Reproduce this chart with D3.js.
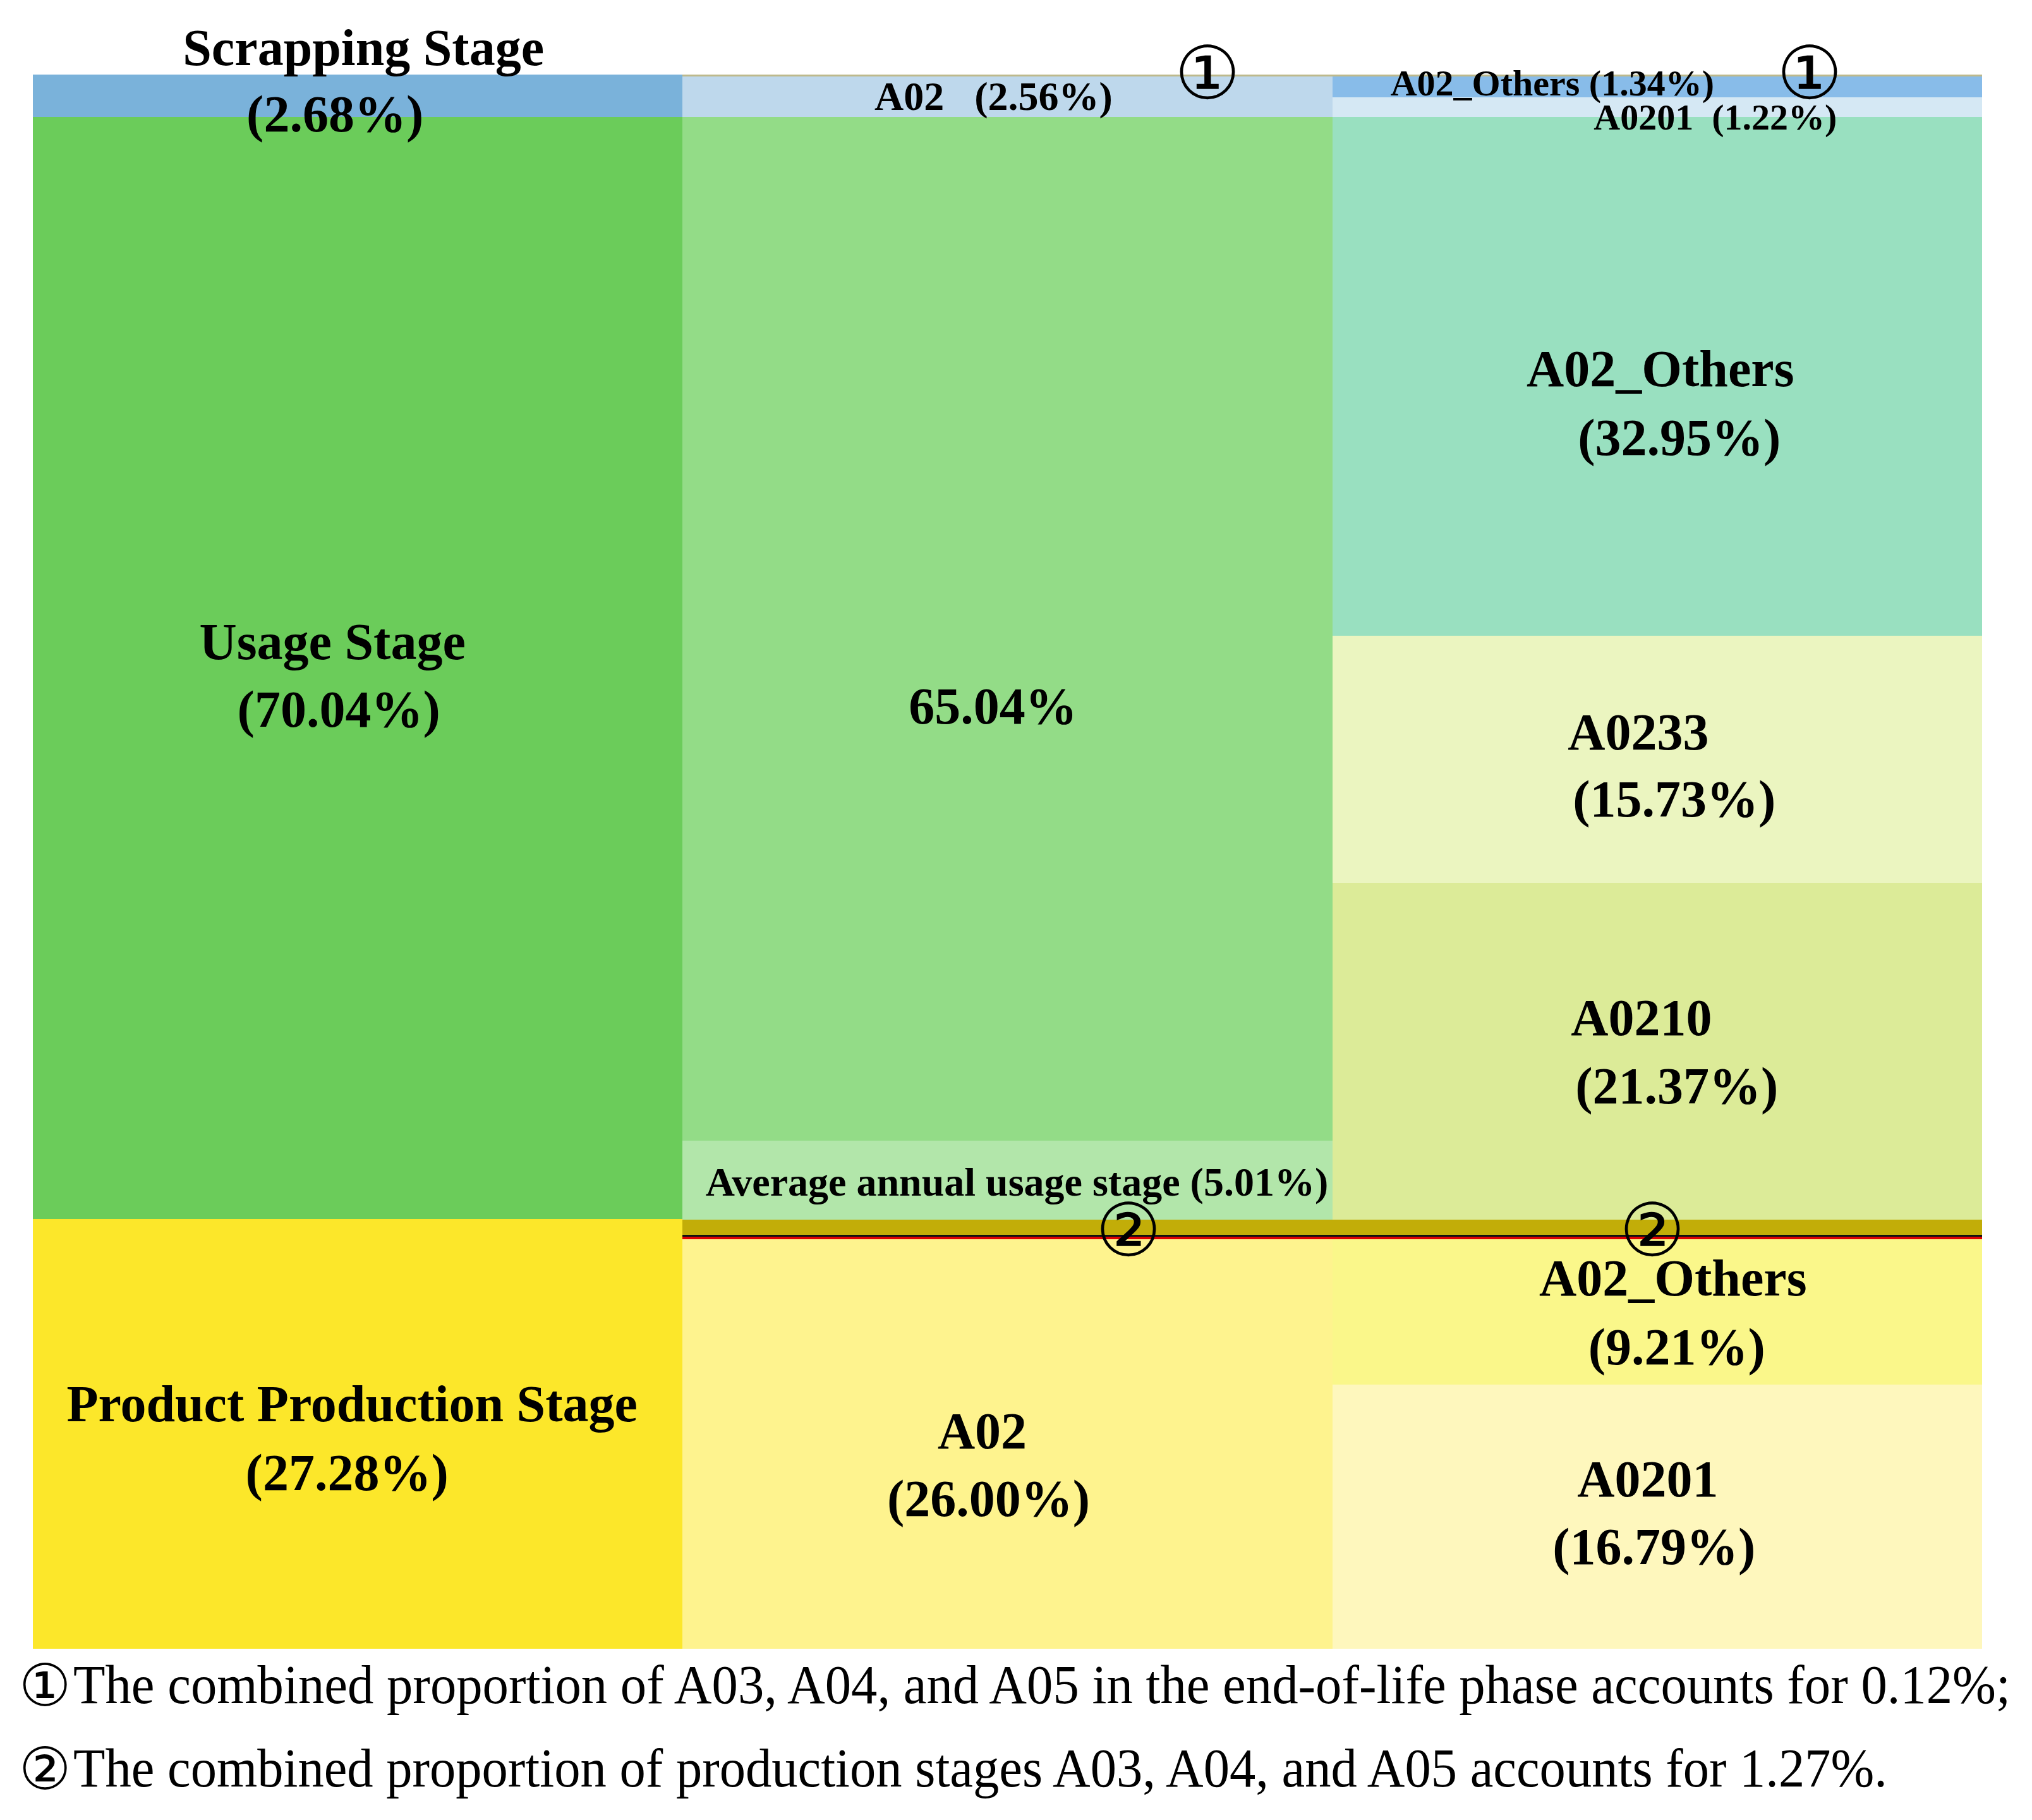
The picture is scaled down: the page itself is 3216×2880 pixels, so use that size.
<!DOCTYPE html>
<html>
<head>
<meta charset="utf-8">
<script src="https://cdn.jsdelivr.net/npm/d3@7"></script>
<style>
  html, body { margin: 0; padding: 0; background: #ffffff; }
  svg { display: block; }
  text { font-family: "Liberation Serif", "Times New Roman", serif; }
</style>
</head>
<body>
<svg id="chart" width="3216" height="2880"></svg>
<script>
// ---------------- DATA ----------------
const columns = ["Stage", "Level 2", "Level 3"];

// Column 1: life-cycle stages (top to bottom)
const stageNames  = ["Scrapping Stage", "Usage Stage", "Product Production Stage"];
const stageValues = [2.68, 70.04, 27.28];

// Column 2 (top to bottom)
const level2Names  = ["Scrap A03-A05", "Scrap A02", "Usage 65.04", "Average annual usage stage", "Prod A03", "Prod A04", "Prod A05", "Prod A02"];
const level2Values = [0.12, 2.56, 65.04, 5.01, 0.97, 0.13, 0.17, 26.00];

// Column 3 (top to bottom)
const level3Names  = ["Scrap A03-A05", "Scrap A02_Others", "Scrap A0201", "Usage A02_Others", "Usage A0233", "Usage A0210", "Prod A03", "Prod A04", "Prod A05", "Prod A02_Others", "Prod A0201"];
const level3Values = [0.12, 1.34, 1.22, 32.95, 15.73, 21.37, 0.97, 0.13, 0.17, 9.21, 16.79];

const notes = [
  "The combined proportion of A03, A04, and A05 in the end-of-life phase accounts for 0.12%;",
  "The combined proportion of production stages A03, A04, and A05 accounts for 1.27%."
];
const noteMarks = ["\u2460", "\u2461"];

// ---------------- STYLES ----------------
const colors = {
  "Scrapping Stage": "#7AB2DA",
  "Usage Stage": "#6BCC5A",
  "Product Production Stage": "#FCE72A",
  "Scrap A03-A05": "#BDB98C",
  "Scrap A02": "#BED8EC",
  "Usage 65.04": "#93DC87",
  "Average annual usage stage": "#B2E6AA",
  "Prod A03": "#C2AD08",
  "Prod A04": "#111111",
  "Prod A05": "#DD0000",
  "Prod A02": "#FEF38E",
  "Scrap A02_Others": "#88BCE9",
  "Scrap A0201": "#D5E8F4",
  "Usage A02_Others": "#99E0C0",
  "Usage A0233": "#EBF5C0",
  "Usage A0210": "#DCEB98",
  "Prod A02_Others": "#FAF78A",
  "Prod A0201": "#FEF7BD"
};

// labels: per column & segment -> lines with offsets from block centre
const BIG = 82, SMALL2 = 64, SMALL3 = 58;
const labelSpecs = {
  "Stage|Scrapping Stage": [
    { t: "Scrapping Stage", dx: 9, dy: -48, fs: BIG },
    { t: "(2.68%)", dx: -36, dy: 57, fs: BIG }],
  "Stage|Usage Stage": [
    { t: "Usage Stage", dx: -40, dy: -14, fs: BIG },
    { t: "(70.04%)", dx: -30, dy: 93, fs: BIG }],
  "Stage|Product Production Stage": [
    { t: "Product Production Stage", dx: -9, dy: -20, fs: BIG },
    { t: "(27.28%)", dx: -17, dy: 89, fs: BIG }],
  "Level 2|Scrap A02": [
    { t: "A02   (2.56%)", dx: -22, dy: 21, fs: SMALL2 }],
  "Level 2|Usage 65.04": [
    { t: "65.04%", dx: -23, dy: 150, fs: BIG }],
  "Level 2|Average annual usage stage": [
    { t: "Average annual usage stage (5.01%)", dx: 15, dy: 25, fs: SMALL2 }],
  "Level 2|Prod A02": [
    { t: "A02", dx: -40, dy: 7, fs: BIG },
    { t: "(26.00%)", dx: -30, dy: 114, fs: BIG }],
  "Level 3|Scrap A02_Others": [
    { t: "A02_Others (1.34%)", dx: -166, dy: 13, fs: SMALL3 }],
  "Level 3|Scrap A0201": [
    { t: "A0201  (1.22%)", dx: 92, dy: 35, fs: SMALL3 }],
  "Level 3|Usage A02_Others": [
    { t: "A02_Others", dx: 5, dy: 16, fs: BIG },
    { t: "(32.95%)", dx: 35, dy: 125, fs: BIG }],
  "Level 3|Usage A0233": [
    { t: "A0233", dx: -30, dy: -15, fs: BIG },
    { t: "(15.73%)", dx: 27, dy: 91, fs: BIG }],
  "Level 3|Usage A0210": [
    { t: "A0210", dx: -25, dy: -26, fs: BIG },
    { t: "(21.37%)", dx: 31, dy: 82, fs: BIG }],
  "Level 3|Prod A02_Others": [
    { t: "A02_Others", dx: 25, dy: -26, fs: BIG },
    { t: "(9.21%)", dx: 31, dy: 83, fs: BIG }],
  "Level 3|Prod A0201": [
    { t: "A0201", dx: -15, dy: -32, fs: BIG },
    { t: "(16.79%)", dx: -5, dy: 75, fs: BIG }]
};
// circled markers: attach to a segment (column|name) with offsets from segment centre
const markerSpecs = [
  { key: "Level 2|Scrap A03-A05", mark: "\u2460", dx: 316, dy: -2 },
  { key: "Level 3|Scrap A03-A05", mark: "\u2460", dx: 241, dy: -2 },
  { key: "Level 2|Prod A04", mark: "\u2461", dx: 191, dy: -7 },
  { key: "Level 3|Prod A04", mark: "\u2461", dx: -8, dy: -7 }
];

// ---------------- LAYOUT ----------------
const svg = d3.select("#chart");
const x = d3.scaleBand().domain(columns).range([52, 3137]).padding(0);
const y = d3.scaleLinear().domain([0, 100]).range([118, 2609]);

function stack(names, values) {
  let acc = 0;
  return names.map((n, i) => {
    const d = { name: n, value: values[i], y0: acc, y1: acc + values[i] };
    acc += values[i];
    return d;
  });
}
const colData = [
  { col: "Stage", segs: stack(stageNames, stageValues) },
  { col: "Level 2", segs: stack(level2Names, level2Values) },
  { col: "Level 3", segs: stack(level3Names, level3Values) }
];

const segCentre = {};
const gCols = svg.selectAll("g.col").data(colData).join("g").attr("class", "col");
gCols.each(function(c) {
  const g = d3.select(this);
  g.selectAll("rect").data(c.segs).join("rect")
    .attr("x", x(c.col))
    .attr("width", x.bandwidth())
    .attr("y", d => y(d.y0))
    .attr("height", d => y(d.y1) - y(d.y0))
    .attr("fill", d => colors[d.name])
    .attr("shape-rendering", "crispEdges");
  c.segs.forEach(d => {
    segCentre[c.col + "|" + d.name] = { cx: x(c.col) + x.bandwidth() / 2, cy: (y(d.y0) + y(d.y1)) / 2 };
  });
});

// labels
const gLab = svg.append("g");
Object.entries(labelSpecs).forEach(([key, lines]) => {
  const c = segCentre[key];
  lines.forEach(l => {
    gLab.append("text")
      .attr("x", c.cx + l.dx)
      .attr("y", c.cy + l.dy)
      .attr("text-anchor", "middle")
      .attr("font-weight", "bold")
      .attr("font-size", l.fs)
      .style("white-space", "pre")
      .attr("fill", "#000")
      .text(l.t);
  });
});

// circled markers
markerSpecs.forEach(m => {
  const c = segCentre[m.key];
  svg.append("text")
    .attr("x", c.cx + m.dx)
    .attr("y", c.cy + m.dy)
    .attr("text-anchor", "middle")
    .attr("dominant-baseline", "central")
    .attr("font-family", "'Noto Sans CJK SC', 'DejaVu Sans', sans-serif")
    .attr("font-weight", 300)
    .attr("font-size", 116)
    .attr("fill", "#000")
    .text(m.mark);
});

// notes
const noteBase = [2695, 2827];
const noteWidth = [3066, 2871];
notes.forEach((n, i) => {
  svg.append("text")
    .attr("x", 30)
    .attr("y", noteBase[i] + 4)
    .attr("font-family", "'Noto Sans CJK SC', 'DejaVu Sans', sans-serif")
    .attr("font-weight", 300)
    .attr("font-size", 92)
    .attr("fill", "#000")
    .text(noteMarks[i]);
  svg.append("text")
    .attr("x", 116)
    .attr("y", noteBase[i])
    .attr("font-size", 86)
    .attr("fill", "#000")
    .attr("textLength", noteWidth[i])
    .attr("lengthAdjust", "spacingAndGlyphs")
    .text(n);
});
</script>
</body>
</html>
